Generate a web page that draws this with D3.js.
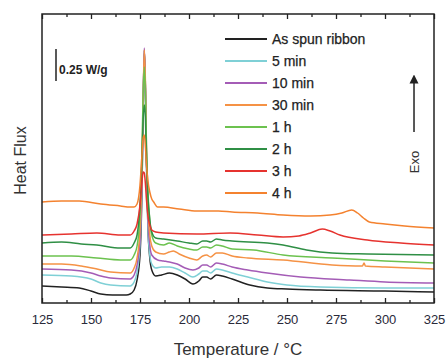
<!DOCTYPE html>
<html><head><meta charset="utf-8">
<script src="https://cdn.jsdelivr.net/npm/d3@7"></script>
<style>body{margin:0;background:#fff}svg{display:block;font-family:"Liberation Sans",Arial,sans-serif}</style>
</head><body>
<svg id="c" width="446" height="361"></svg>
<script>
// Temperature (°C) / heat flux (relative units, 32 units = 0.25 W/g), curves offset as in the figure
const seriesNames = ["As spun ribbon","5 min","10 min","30 min","1 h","2 h","3 h","4 h"];
const seriesColors = ["#222222","#7fd0d6","#a45cb6","#f59245","#6cc24f","#2f8f45","#e6332f","#f4822f"];
const asSpun = [[125,17],[135,16],[144,15],[150,12],[155,9],[161,8],[168,8],[170,9],[172,13],[173.5,23],[175,48],[176,113],[176.6,193],[177.2,253],[177.8,213],[178.3,143],[179,78],[180,45],[181,33],[183,27],[186,28],[190,30],[194,28],[198,24],[202,19],[205,22],[207,26],[209,26],[211,24],[214,28],[217,27],[222,24],[231,18],[240,15],[250,14],[267,13],[300,12],[325,11]];
const min5 = [[125,28],[140,27],[150,24],[155,20],[160,18],[170,17],[172,21],[173.5,31],[175,58],[176,118],[176.6,193],[177.2,251],[177.8,208],[178.3,138],[179,78],[180,48],[181,39],[183,35],[186,36],[190,36],[194,34],[198,30],[202,26],[205,29],[207,32],[209,32],[211,30],[214,34],[217,33],[222,30],[230,26],[240,21],[250,18],[267,16],[300,15],[325,15]];
const min10 = [[125,34],[140,33],[150,30],[155,27],[160,25],[170,24],[172,28],[173.5,38],[175,63],[176,123],[176.6,193],[177.2,255],[177.8,208],[178.3,143],[179,88],[180,58],[181,48],[184,43],[187,42],[190,41],[194,39],[198,35],[202,33],[205,35],[207,38],[209,38],[211,36],[214,40],[217,39],[222,36],[230,33],[240,30],[257,26],[282,23],[300,21],[325,20]];
const min30 = [[125,39],[135,39],[145,37],[153,34],[160,31],[170,30],[172,35],[173.5,45],[175,73],[176,133],[176.6,203],[177.2,253],[177.8,218],[178.3,153],[179,98],[180,68],[181,57],[183,51],[187,49],[190,51],[192,52],[195,49],[200,45],[204,43],[207,47],[209,48],[211,46],[214,50],[217,50],[222,47],[230,45],[248,43],[273,38],[288.5,37],[289.3,40],[290,37],[300,36],[325,34]];
const h1 = [[125,47],[140,47],[153,45],[165,43],[170,43],[172,48],[173.5,57],[175,88],[176,153],[176.6,208],[177.2,236],[177.8,208],[178.3,158],[179,113],[180,83],[181,68],[183,60],[187,58],[190,60],[194,57],[200,54],[204,53],[207,56],[209,56],[211,55],[214,58],[217,57],[222,54],[233,53],[248,48],[273,45],[300,42],[325,40]];
const h2 = [[125,60],[135,61],[145,59],[153,58],[165,55],[170,55],[172,60],[173.5,68],[175,98],[176,143],[176.6,183],[177.2,198],[177.8,183],[178.3,143],[179,108],[180,83],[181,71],[183,65],[187,64],[194,62],[200,60],[204,59],[207,62],[209,62],[211,61],[214,64],[217,63],[222,62],[240,60],[248,58],[260,53],[273,50],[291,49],[325,48]];
const h3 = [[125,68],[140,69],[153,70],[165,68],[170,68],[172,72],[173.5,79],[175,98],[176,121],[176.6,131],[177.2,130],[177.8,118],[178.3,103],[179,88],[180,78],[181,73],[183,71],[187,70],[204,69],[221,70],[235,68],[248,66],[256,67],[262,70],[268,74],[272,72],[277,68],[291,63],[308,60],[325,58]];
const h4 = [[125,101],[135,102],[144,102],[155,99],[165,97],[170,96],[172,96],[173.5,99],[175,118],[176,148],[176.6,165],[177.2,168],[177.8,155],[178.3,138],[179,123],[180,111],[181,104],[182,101],[184,96],[187,96],[195,94],[204,92],[215,92],[222,91],[235,90],[248,88],[262,87],[272,88],[278,90],[283,93],[286,90],[289,85],[292,81],[300,79],[310,77],[325,75]];
const seriesData = [asSpun,min5,min10,min30,h1,h2,h3,h4];
const xTicks = [125,150,175,200,225,250,275,300,325];
const xMinorTicks = [137.5,162.5,187.5,212.5,237.5,262.5,287.5,312.5];

const svg = d3.select("#c");
const L=42,R=434,T=14,B=303;
const x = d3.scaleLinear().domain([125,325]).range([L,R]);
const y = d3.scaleLinear().domain([0,289]).range([B,T]);
const ink="#222";

// curves
const line = d3.line().x(d=>x(d[0])).y(d=>y(d[1])).curve(d3.curveMonotoneX);
seriesData.forEach((s,i)=>{
  svg.append("path").attr("d",line(s)).attr("fill","none")
    .attr("stroke",seriesColors[i]).attr("stroke-width",1.5).attr("stroke-linejoin","round");
});

// axes
const gB = svg.append("g").attr("transform",`translate(0,${B})`)
  .call(d3.axisBottom(x).tickValues(xTicks).tickSize(-5).tickPadding(12).tickFormat(d3.format("d")));
const gBm = svg.append("g").attr("transform",`translate(0,${B})`)
  .call(d3.axisBottom(x).tickValues(xMinorTicks).tickSize(-3).tickFormat(""));
const gT = svg.append("g").attr("transform",`translate(0,${T})`)
  .call(d3.axisTop(x).tickValues(xTicks).tickSize(-5).tickFormat(""));
const gTm = svg.append("g").attr("transform",`translate(0,${T})`)
  .call(d3.axisTop(x).tickValues(xMinorTicks).tickSize(-3).tickFormat(""));
[gB,gBm,gT,gTm].forEach(g=>{
  g.select(".domain").remove();
  g.selectAll("line").attr("stroke",ink).attr("stroke-width",1.3);
});
gB.selectAll("text").attr("font-size",13).attr("fill","#2a2a3a").attr("font-family","Liberation Sans, Arial, sans-serif");
svg.append("rect").attr("x",L).attr("y",T).attr("width",R-L).attr("height",B-T)
  .attr("fill","none").attr("stroke",ink).attr("stroke-width",1.5);

// axis titles
svg.append("text").attr("x",(L+R)/2).attr("y",355).attr("text-anchor","middle")
  .attr("font-size",17).attr("fill","#333").text("Temperature / °C");
svg.append("text").attr("transform",`translate(26,${(T+B)/2+2}) rotate(-90)`).attr("text-anchor","middle")
  .attr("font-size",16).attr("fill","#333").text("Heat Flux");

// scale bar
svg.append("line").attr("x1",56).attr("x2",56).attr("y1",y(222)).attr("y2",y(254))
  .attr("stroke",ink).attr("stroke-width",1.5);
svg.append("text").attr("x",59).attr("y",y(229)).attr("font-size",12).attr("font-weight","bold")
  .attr("fill","#222").text("0.25 W/g");

// Exo arrow
const ax = x(314.8);
svg.append("defs").append("marker").attr("id","ah").attr("viewBox","0 0 10 10").attr("refX",5).attr("refY",5)
  .attr("markerWidth",6).attr("markerHeight",7).attr("orient","auto")
  .append("path").attr("d","M0,0 L10,5 L0,10 z").attr("fill",ink);
svg.append("line").attr("x1",ax).attr("x2",ax).attr("y1",y(171)).attr("y2",y(224))
  .attr("stroke",ink).attr("stroke-width",1.5).attr("marker-end","url(#ah)");
svg.append("text").attr("transform",`translate(${ax+5},162) rotate(-90)`).attr("text-anchor","middle")
  .attr("font-size",13).attr("fill","#333").text("Exo");

// legend
const lg = svg.append("g");
seriesNames.forEach((n,i)=>{
  const yy = 39 + i*22;
  lg.append("line").attr("x1",225).attr("x2",267).attr("y1",yy).attr("y2",yy)
    .attr("stroke",seriesColors[i]).attr("stroke-width",1.8);
  lg.append("text").attr("x",272).attr("y",yy+5).attr("font-size",14).attr("fill","#222")
    .attr("stroke","#222").attr("stroke-width",0.25).text(n);
});
</script>
</body></html>
